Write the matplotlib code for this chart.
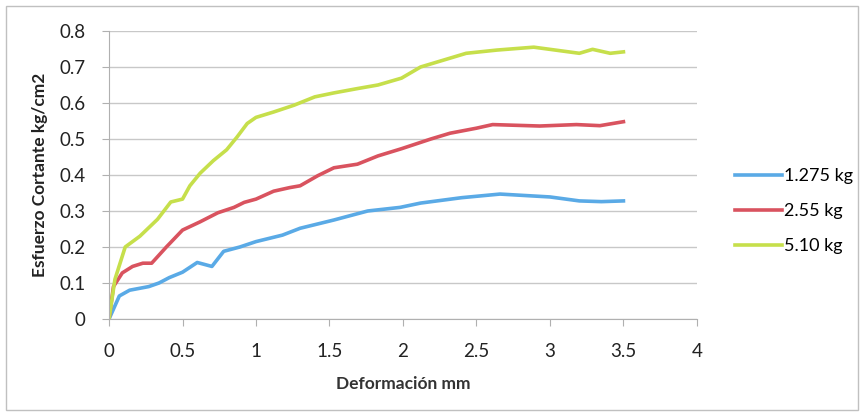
import matplotlib.pyplot as plt
from matplotlib.patches import Rectangle

# Data
x_blue = [0, 0.07, 0.14, 0.27, 0.34, 0.41, 0.5, 0.6, 0.7, 0.78, 0.89, 1.0, 1.18, 1.3,
          1.53, 1.76, 1.98, 2.12, 2.4, 2.66, 3.0, 3.2, 3.35, 3.5]
y_blue = [0, 0.064, 0.08, 0.09, 0.10, 0.115, 0.13, 0.157, 0.146, 0.188, 0.20, 0.215, 0.233, 0.252,
          0.275, 0.30, 0.31, 0.322, 0.337, 0.347, 0.339, 0.328, 0.326, 0.328]

x_red = [0, 0.03, 0.09, 0.16, 0.23, 0.29, 0.39, 0.5, 0.62, 0.74, 0.85, 0.92, 1.0, 1.12, 1.23,
         1.3, 1.42, 1.53, 1.69, 1.83, 1.99, 2.19, 2.32, 2.5, 2.61, 2.93, 3.18, 3.34, 3.5]
y_red = [0, 0.09, 0.128, 0.146, 0.155, 0.155, 0.20, 0.247, 0.27, 0.295, 0.31, 0.324, 0.333, 0.355, 0.365,
         0.37, 0.398, 0.42, 0.43, 0.453, 0.473, 0.50, 0.516, 0.53, 0.54, 0.536, 0.54, 0.537, 0.548]

x_green = [0, 0.04, 0.11, 0.21, 0.33, 0.42, 0.5, 0.55, 0.62, 0.71, 0.8, 0.87, 0.94, 1.0, 1.12,
           1.26, 1.4, 1.53, 1.69, 1.83, 1.99, 2.12, 2.43, 2.64, 2.89, 3.2, 3.29, 3.41, 3.5]
y_green = [0, 0.11, 0.20, 0.23, 0.277, 0.325, 0.333, 0.37, 0.405, 0.44, 0.47, 0.505, 0.543, 0.56, 0.575,
           0.594, 0.617, 0.628, 0.64, 0.65, 0.669, 0.70, 0.738, 0.747, 0.755, 0.738, 0.749, 0.738, 0.742]

labels = ['1.275 kg', '2.55 kg', '5.10 kg']
colors = ['#5aaae6', '#d9535f', '#c6df4b']

plt.rcParams['font.family'] = ['Lato', 'DejaVu Sans']

fig = plt.figure(figsize=(8.62, 4.13), dpi=100)
ax = fig.add_axes([0.1265, 0.2276, 0.682, 0.6974])

ax.plot(x_blue, y_blue, color=colors[0], lw=2.6, label=labels[0], solid_joinstyle='round')
ax.plot(x_red, y_red, color=colors[1], lw=2.6, label=labels[1], solid_joinstyle='round')
ax.plot(x_green, y_green, color=colors[2], lw=2.6, label=labels[2], solid_joinstyle='round')

ax.set_xlim(0, 4)
ax.set_ylim(0, 0.8)
ax.set_xticks([0, 0.5, 1, 1.5, 2, 2.5, 3, 3.5, 4])
ax.set_xticklabels(['0', '0.5', '1', '1.5', '2', '2.5', '3', '3.5', '4'])
ax.set_yticks([0, 0.1, 0.2, 0.3, 0.4, 0.5, 0.6, 0.7, 0.8])
ax.set_yticklabels(['0', '0.1', '0.2', '0.3', '0.4', '0.5', '0.6', '0.7', '0.8'])
ax.yaxis.grid(True, color='#c8c8c8', lw=1)
ax.set_axisbelow(True)
for s in ['top', 'right']:
    ax.spines[s].set_visible(False)
for s in ['left', 'bottom']:
    ax.spines[s].set_color('#b0b0b0')
ax.tick_params(axis='both', colors='#b0b0b0', labelcolor='#222222', labelsize=13.5, length=5)
ax.tick_params(axis='x', pad=12)
ax.tick_params(axis='y', pad=12)

ax.set_xlabel('Deformación mm', fontsize=12.5, fontweight='bold', color='#333333', labelpad=12)
ax.set_ylabel('Esfuerzo Cortante kg/cm2', fontsize=12.5, fontweight='bold', color='#222222', labelpad=8)

fig.legend(loc='center left', bbox_to_anchor=(0.834, 0.489), frameon=False, fontsize=13,
           handlelength=2.6, handletextpad=0.1, labelspacing=1.05)

# outer frame
fig.patches.append(Rectangle((0.007, 0.008), 0.988, 0.977, transform=fig.transFigure,
                             fill=False, edgecolor='#c0c0c0', lw=1))

plt.savefig('out.png', dpi=100)
